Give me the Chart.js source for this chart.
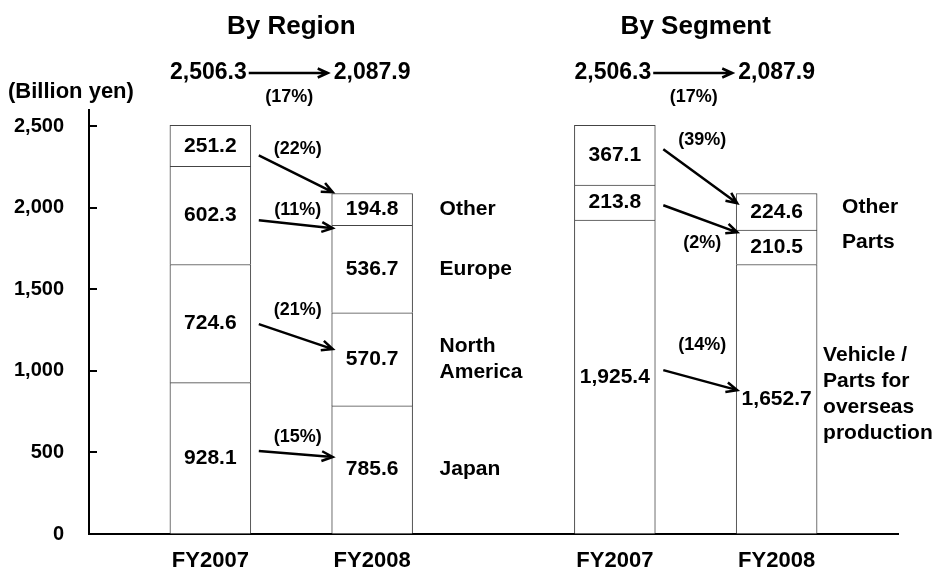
<!DOCTYPE html>
<html>
<head>
<meta charset="utf-8">
<script src="https://cdn.jsdelivr.net/npm/chart.js@4/dist/chart.umd.min.js"></script>
<style>
  html, body { margin: 0; padding: 0; background: #fff; }
  #wrap { width: 935px; height: 573px; }
</style>
</head>
<body>
<div id="wrap"><canvas id="grafico"></canvas></div>
<script>
// Net sales (billion yen)
const years = ['FY2007', 'FY2008'];
const totals = [2506.3, 2087.9];
const totalChange = '(17%)';

const regionNames = ['Japan', 'North America', 'Europe', 'Other'];
const regionFY2007 = [928.1, 724.6, 602.3, 251.2];
const regionFY2008 = [785.6, 570.7, 536.7, 194.8];
const regionChange = ['(15%)', '(21%)', '(11%)', '(22%)'];

const segmentNames = ['Vehicle / Parts for overseas production', 'Parts', 'Other'];
const segmentFY2007 = [1925.4, 213.8, 367.1];
const segmentFY2008 = [1652.7, 210.5, 224.6];
const segmentChange = ['(14%)', '(2%)', '(39%)'];

const yTicks = [0, 500, 1000, 1500, 2000, 2500];

// where the bars sit on the category axis (10 slots, bars fill one slot each)
const slotCount = 10;
const regionSlots = [1, 3];
const segmentSlots = [6, 8];

// arrow anchors, in axis units (from FY2007 bar to FY2008 bar), and label offset in px
const regionArrows = [
  { from: 509, to: 472, dy: -14 },
  { from: 1287, to: 1134, dy: -14 },
  { from: 1924, to: 1875, dy: -10 },
  { from: 2322, to: 2096, dy: -6 }
];
const segmentArrows = [
  { from: 1005, to: 882, dy: -25 },
  { from: 2016, to: 1850, dy: 38 },
  { from: 2359, to: 2028, dy: -9 }
];

// label lines for the series names on the right of the FY2008 bars
const regionLines = [['Japan'], ['North', 'America'], ['Europe'], ['Other']];
const segmentLines = [['Vehicle /', 'Parts for', 'overseas', 'production'], ['Parts'], ['Other']];
const regionGap = [27, 27, 27, 27];
const segmentGap = [6, 25, 25];

const FONT = '"Liberation Sans", Arial, sans-serif';

const labels = [];
for (let i = 0; i < slotCount; i++) labels.push('');
regionSlots.forEach((s, i) => labels[s] = years[i]);
segmentSlots.forEach((s, i) => labels[s] = years[i]);

function spread(vals, slots) {
  const arr = [];
  for (let i = 0; i < slotCount; i++) arr.push(null);
  slots.forEach((s, i) => arr[s] = vals[i]);
  return arr;
}

const datasets = [];
regionNames.forEach((n, i) => {
  datasets.push({
    label: n,
    group: 'region',
    idx: i,
    data: spread([regionFY2007[i], regionFY2008[i]], regionSlots),
    backgroundColor: '#fff',
    borderColor: '#444',
    borderWidth: 1
  });
});
segmentNames.forEach((n, i) => {
  datasets.push({
    label: n,
    group: 'segment',
    idx: i,
    data: spread([segmentFY2007[i], segmentFY2008[i]], segmentSlots),
    backgroundColor: '#fff',
    borderColor: '#444',
    borderWidth: 1
  });
});

function fmt(v) {
  return v.toLocaleString('en-US', { minimumFractionDigits: 1, maximumFractionDigits: 1 });
}

function arrow(ctx, x1, y1, x2, y2, head) {
  const a = Math.atan2(y2 - y1, x2 - x1);
  ctx.beginPath();
  ctx.moveTo(x1, y1);
  ctx.lineTo(x2, y2);
  ctx.moveTo(x2 - head * Math.cos(a - 0.42), y2 - head * Math.sin(a - 0.42));
  ctx.lineTo(x2, y2);
  ctx.lineTo(x2 - head * Math.cos(a + 0.42), y2 - head * Math.sin(a + 0.42));
  ctx.stroke();
}

const extras = {
  id: 'extras',
  afterDraw(chart) {
    const ctx = chart.ctx;
    const ys = chart.scales.y;
    const area = chart.chartArea;
    ctx.save();

    // inward tick marks on the value axis
    ctx.strokeStyle = '#000';
    ctx.lineWidth = 2;
    yTicks.forEach(v => {
      if (v === 0) return;
      const y = Math.round(ys.getPixelForValue(v));
      ctx.beginPath();
      ctx.moveTo(area.left, y);
      ctx.lineTo(area.left + 8, y);
      ctx.stroke();
    });

    ctx.fillStyle = '#000';
    ctx.textAlign = 'center';
    ctx.textBaseline = 'middle';

    // values inside the bar segments
    ctx.font = 'bold 21px ' + FONT;
    chart.data.datasets.forEach((ds, di) => {
      const meta = chart.getDatasetMeta(di);
      meta.data.forEach((el, k) => {
        if (ds.data[k] == null) return;
        ctx.fillText(fmt(ds.data[k]), el.x, (el.y + el.base) / 2);
      });
    });

    // series names, change arrows and percentages
    const groups = [
      { name: 'region', slots: regionSlots, lines: regionLines, gap: regionGap, arrows: regionArrows, change: regionChange, shift: 0 },
      { name: 'segment', slots: segmentSlots, lines: segmentLines, gap: segmentGap, arrows: segmentArrows, change: segmentChange, shift: -5 }
    ];
    groups.forEach(g => {
      chart.data.datasets.forEach((ds, di) => {
        if (ds.group !== g.name) return;
        const meta = chart.getDatasetMeta(di);
        const a = meta.data[g.slots[0]];
        const b = meta.data[g.slots[1]];

        // name to the right of the FY2008 bar
        const lines = g.lines[ds.idx];
        const cy = (b.y + b.base) / 2 + g.shift;
        ctx.font = 'bold 21px ' + FONT;
        ctx.textAlign = 'left';
        lines.forEach((t, li) => {
          ctx.fillText(t, b.x + b.width / 2 + g.gap[ds.idx], cy + (li - (lines.length - 1) / 2) * 26);
        });

        // arrow from FY2007 to FY2008
        const ar = g.arrows[ds.idx];
        const x1 = a.x + a.width / 2 + 8;
        const x2 = b.x - b.width / 2 + 1;
        const y1 = ys.getPixelForValue(ar.from);
        const y2 = ys.getPixelForValue(ar.to);
        ctx.lineWidth = 2.5;
        arrow(ctx, x1, y1, x2, y2, 12);
        ctx.font = 'bold 18px ' + FONT;
        ctx.textAlign = 'center';
        ctx.fillText(g.change[ds.idx], (x1 + x2) / 2 + 2, y1 + ar.dy);
      });
    });

    // totals and headings above each pair of bars
    const xs = chart.scales.x;
    [regionSlots, segmentSlots].forEach((slots, gi) => {
      const xa = xs.getPixelForValue(slots[0]);
      const xb = xs.getPixelForValue(slots[1]);
      ctx.font = 'bold 26px ' + FONT;
      ctx.textAlign = 'center';
      ctx.fillText(gi === 0 ? 'By Region' : 'By Segment', (xa + xb) / 2, 27);

      ctx.font = 'bold 23px ' + FONT;
      const ta = fmt(totals[0]);
      const tb = fmt(totals[1]);
      ctx.fillText(ta, xa - 2, 73);
      ctx.fillText(tb, xb, 73);
      const wa = ctx.measureText(ta).width;
      const wb = ctx.measureText(tb).width;
      ctx.lineWidth = 2.5;
      arrow(ctx, xa - 2 + wa / 2 + 2, 73, xb - wb / 2 - 6, 73, 11);
      ctx.font = 'bold 18px ' + FONT;
      ctx.fillText(totalChange, (xa + xb) / 2 - 2, 97);
    });

    ctx.font = 'bold 22px ' + FONT;
    ctx.textAlign = 'left';
    ctx.fillText('(Billion yen)', 8, 92);

    ctx.restore();
  }
};

new Chart(document.getElementById('grafico'), {
  type: 'bar',
  data: { labels: labels, datasets: datasets },
  options: {
    responsive: true,
    maintainAspectRatio: false,
    animation: false,
    barPercentage: 1,
    categoryPercentage: 1,
    layout: { padding: { top: 110, right: 37, left: 0, bottom: 0 } },
    plugins: {
      legend: { display: false },
      tooltip: { enabled: false },
      title: { display: false }
    },
    scales: {
      x: {
        stacked: true,
        afterFit: s => { s.height = 39; },
        grid: { display: false, drawTicks: false },
        border: { color: '#000', width: 2 },
        ticks: {
          autoSkip: false,
          maxRotation: 0,
          padding: 14,
          color: '#000',
          font: { family: FONT, size: 22, weight: 'bold' }
        }
      },
      y: {
        stacked: true,
        min: 0,
        max: 2600,
        afterFit: s => { s.width = 89; },
        afterBuildTicks: s => { s.ticks = yTicks.map(v => ({ value: v })); },
        grid: { drawOnChartArea: false, drawTicks: false },
        border: { color: '#000', width: 2 },
        ticks: {
          padding: 25,
          color: '#000',
          font: { family: FONT, size: 20, weight: 'bold' },
          callback: v => v.toLocaleString('en-US')
        }
      }
    }
  },
  plugins: [extras]
});
</script>
</body>
</html>
